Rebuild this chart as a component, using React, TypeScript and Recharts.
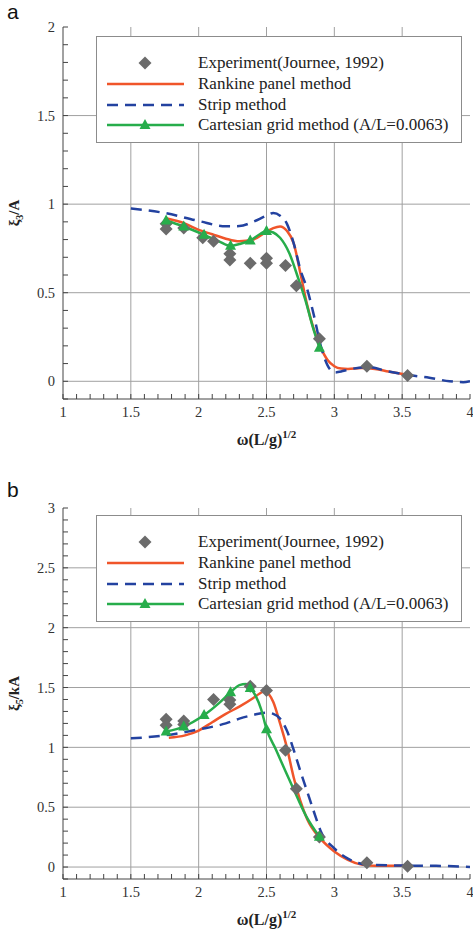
import React from 'react';
import { ComposedChart, Line, Scatter, XAxis, YAxis, CartesianGrid, Legend, Label } from 'recharts';

const SERIF = '"Liberation Serif", "Times New Roman", serif';
const RED = '#f0552a';
const BLUE = '#2342a0';
const GREEN = '#27ad4b';
const GRAY = '#6b6b6b';

const LEGEND_NAMES = [
  'Experiment(Journee, 1992)',
  'Rankine panel method',
  'Strip method',
  'Cartesian grid method (A/L=0.0063)',
];

const X_LABELS = [1, 1.5, 2, 2.5, 3, 3.5, 4];
const Y_LABELS_A = [0, 0.5, 1, 1.5, 2];
const Y_LABELS_B = [0, 0.5, 1, 1.5, 2, 2.5, 3];

// (a) heave, xi3/A
const expA_x = [1.76, 1.76, 1.89, 2.03, 2.11, 2.23, 2.23, 2.38, 2.5, 2.5, 2.64, 2.72, 2.89, 3.24, 3.54];
const expA_y = [0.89, 0.86, 0.865, 0.81, 0.79, 0.72, 0.685, 0.667, 0.695, 0.667, 0.654, 0.54, 0.24, 0.085, 0.032];

const rankineA_x = [1.76, 1.9, 2.0, 2.1, 2.2, 2.3, 2.4, 2.5, 2.55, 2.6, 2.65, 2.7, 2.75, 2.8, 2.85, 2.9, 2.95, 3.0, 3.05, 3.1, 3.2, 3.3, 3.4, 3.55];
const rankineA_y = [0.92, 0.89, 0.855, 0.83, 0.805, 0.79, 0.8, 0.845, 0.865, 0.874, 0.85, 0.78, 0.61, 0.43, 0.29, 0.19, 0.12, 0.085, 0.072, 0.07, 0.075, 0.07, 0.055, 0.035];

const stripA_x = [1.5, 1.75, 2.0, 2.2, 2.3, 2.4, 2.5, 2.55, 2.6, 2.65, 2.7, 2.75, 2.8, 2.85, 2.9, 2.95, 3.0, 3.05, 3.1, 3.25, 3.4, 3.55, 3.7, 3.85, 3.95, 4.0];
const stripA_y = [0.975, 0.95, 0.905, 0.875, 0.876, 0.9, 0.935, 0.95, 0.935, 0.89, 0.78, 0.63, 0.52, 0.37, 0.2, 0.09, 0.05, 0.055, 0.065, 0.08, 0.055, 0.035, 0.02, 0.0, -0.005, 0.0];

const cartA_x = [1.76, 1.89, 2.04, 2.15, 2.235, 2.3, 2.38, 2.45, 2.5, 2.55, 2.6, 2.67, 2.73, 2.79, 2.84, 2.89];
const cartA_y = [0.908, 0.874, 0.827, 0.79, 0.765, 0.775, 0.795, 0.83, 0.848, 0.84, 0.81, 0.72, 0.59, 0.45, 0.31, 0.19];
const cartMarkA_x = [1.76, 1.89, 2.04, 2.235, 2.38, 2.5, 2.89];
const cartMarkA_y = [0.908, 0.874, 0.827, 0.765, 0.795, 0.848, 0.19];

// (b) pitch, xi5/kA
const expB_x = [1.76, 1.76, 1.89, 1.89, 2.11, 2.23, 2.23, 2.38, 2.5, 2.64, 2.72, 2.89, 3.24, 3.54];
const expB_y = [1.235, 1.185, 1.22, 1.19, 1.4, 1.395, 1.36, 1.51, 1.475, 0.975, 0.655, 0.25, 0.035, 0.006];

const rankineB_x = [1.78, 1.9, 2.0, 2.1, 2.2, 2.3, 2.4, 2.45, 2.48, 2.52, 2.55, 2.6, 2.65, 2.7, 2.8, 2.9, 3.0, 3.1, 3.2, 3.3, 3.55];
const rankineB_y = [1.08, 1.1, 1.14, 1.21, 1.28, 1.34, 1.41, 1.45, 1.467, 1.44, 1.38, 1.2, 1.0, 0.75, 0.4, 0.235, 0.13, 0.06, 0.02, 0.01, 0.01];

const stripB_x = [1.5, 1.75, 2.0, 2.2, 2.3, 2.4, 2.5, 2.55, 2.6, 2.65, 2.7, 2.75, 2.8, 2.85, 2.9, 3.0, 3.1, 3.25, 3.5, 3.75, 4.0];
const stripB_y = [1.075, 1.1, 1.15, 1.2, 1.24, 1.27, 1.29, 1.28, 1.24, 1.14, 0.98, 0.8, 0.63, 0.46, 0.3, 0.155, 0.07, 0.02, 0.012, 0.01, 0.0];

const cartB_x = [1.76, 1.89, 2.04, 2.15, 2.235, 2.3, 2.35, 2.38, 2.42, 2.46, 2.5, 2.57, 2.64, 2.7, 2.79, 2.89];
const cartB_y = [1.132, 1.174, 1.27, 1.37, 1.46, 1.52, 1.53, 1.497, 1.43, 1.32, 1.152, 0.98, 0.8, 0.65, 0.43, 0.253];
const cartMarkB_x = [1.76, 1.89, 2.04, 2.235, 2.38, 2.5, 2.89];
const cartMarkB_y = [1.132, 1.174, 1.27, 1.46, 1.497, 1.152, 0.253];

const zip = (xs: number[], ys: number[]) => xs.map((x, i) => ({ x, y: ys[i] }));

const tenths = (from: number, to: number) => {
  const out: number[] = [];
  for (let k = Math.round(from * 10); k <= Math.round(to * 10); k++) out.push(k / 10);
  return out;
};

const Diamond = (props: any) => {
  const { cx, cy } = props;
  const r = 6.5;
  return <path d={`M${cx},${cy - r}L${cx + r},${cy}L${cx},${cy + r}L${cx - r},${cy}Z`} fill={GRAY} />;
};

const Triangle = (props: any) => {
  const { cx, cy } = props;
  return <path d={`M${cx},${cy - 6}L${cx + 5.5},${cy + 4}L${cx - 5.5},${cy + 4}Z`} fill={GREEN} />;
};

const LegendBox = () => (
  <div
    style={{
      boxSizing: 'border-box',
      width: 366,
      height: 107,
      border: '1px solid #8c8c8c',
      background: '#fff',
      paddingTop: 16,
      fontFamily: SERIF,
      fontSize: 17,
      color: '#222',
    }}
  >
    {LEGEND_NAMES.map((name, i) => (
      <div key={name} style={{ display: 'flex', alignItems: 'center', height: 20.7 }}>
        <svg width={101} height={20} style={{ flex: 'none' }}>
          {i === 0 && <path d="M48,3.5L54.5,10L48,16.5L41.5,10Z" fill={GRAY} />}
          {i === 1 && <line x1={10} x2={87} y1={10} y2={10} stroke={RED} strokeWidth={2.5} />}
          {i === 2 && <line x1={10} x2={87} y1={10} y2={10} stroke={BLUE} strokeWidth={2.5} strokeDasharray="11 7" />}
          {i === 3 && (
            <g>
              <line x1={10} x2={87} y1={10} y2={10} stroke={GREEN} strokeWidth={2.5} />
              <path d="M48,4L53.5,14L42.5,14Z" fill={GREEN} />
            </g>
          )}
        </svg>
        <span style={{ whiteSpace: 'nowrap' }}>{name}</span>
      </div>
    ))}
  </div>
);

const XTitle = (props: any) => {
  const vb = props.viewBox;
  const cx = vb.x + vb.width / 2;
  return (
    <text x={cx} y={vb.y + 46} textAnchor="middle" fontFamily={SERIF} fontSize={16} fontWeight="bold" fill="#222">
      ω(L/g)
      <tspan dy={-7} fontSize={11}>1/2</tspan>
    </text>
  );
};

const makeYTitle = (sub: string, rest: string) => (props: any) => {
  const vb = props.viewBox;
  const cy = vb.y + vb.height / 2;
  const cx = 19;
  return (
    <text
      x={cx}
      y={cy}
      textAnchor="middle"
      transform={`rotate(-90, ${cx}, ${cy})`}
      fontFamily={SERIF}
      fontSize={15}
      fontWeight="bold"
      fill="#222"
    >
      ξ
      <tspan dy={4} fontSize={10}>{sub}</tspan>
      <tspan dy={-4}>{rest}</tspan>
    </text>
  );
};

type PanelProps = {
  height: number;
  top: number;
  bottom: number;
  yMax: number;
  yLabels: number[];
  yTitle: (p: any) => React.ReactElement;
  legendTop: number;
  exp: { x: number; y: number }[];
  rankine: { x: number; y: number }[];
  strip: { x: number; y: number }[];
  cart: { x: number; y: number }[];
  cartMarks: { x: number; y: number }[];
};

const axisStroke = '#444';
const tickStyle = { fontFamily: SERIF, fontSize: 14.5, fill: '#333' };

const Panel = (p: PanelProps) => {
  const xTicks = tenths(1, 4);
  const yTicks = tenths(-0.1, p.yMax);
  const fmtX = (v: number) => (X_LABELS.includes(v) ? String(v) : '');
  const fmtY = (v: number) => (p.yLabels.includes(v) ? String(v) : '');
  return (
    <ComposedChart width={473} height={p.height} margin={{ top: p.top, right: 3, left: 23, bottom: p.bottom }}>
      <CartesianGrid
        stroke="#a0a0a0"
        strokeWidth={1}
        horizontalValues={p.yLabels.filter((v) => v < p.yMax)}
        verticalValues={[1.5, 2, 2.5, 3, 3.5]}
      />
      <XAxis
        type="number"
        dataKey="x"
        domain={[1, 4]}
        allowDataOverflow
        ticks={xTicks}
        interval={0}
        tickFormatter={fmtX}
        tickSize={-5}
        tickMargin={13}
        height={30}
        stroke={axisStroke}
        tick={tickStyle}
      >
        <Label content={XTitle} />
      </XAxis>
      <XAxis
        xAxisId="top"
        orientation="top"
        type="number"
        dataKey="x"
        domain={[1, 4]}
        allowDataOverflow
        ticks={xTicks}
        interval={0}
        tickFormatter={() => ''}
        tickSize={-5}
        height={0}
        stroke={axisStroke}
      />
      <YAxis
        type="number"
        dataKey="y"
        domain={[-0.1, p.yMax]}
        allowDataOverflow
        ticks={yTicks}
        interval={0}
        tickFormatter={fmtY}
        tickSize={-5}
        tickMargin={13}
        width={40}
        stroke={axisStroke}
        tick={tickStyle}
      >
        <Label content={p.yTitle} />
      </YAxis>
      <YAxis
        yAxisId="right"
        orientation="right"
        type="number"
        domain={[-0.1, p.yMax]}
        allowDataOverflow
        ticks={yTicks}
        interval={0}
        tickFormatter={() => ''}
        tickSize={-5}
        width={0}
        stroke={axisStroke}
      />
      <Legend
        layout="vertical"
        align="center"
        verticalAlign="middle"
        wrapperStyle={{ left: 96, top: p.legendTop, width: 366, height: 107 }}
        content={() => <LegendBox />}
      />
      <Scatter data={p.exp} dataKey="y" shape={Diamond} isAnimationActive={false} />
      <Line data={p.rankine} dataKey="y" type="monotone" stroke={RED} strokeWidth={2.5} dot={false} activeDot={false} isAnimationActive={false} />
      <Line data={p.strip} dataKey="y" type="monotone" stroke={BLUE} strokeWidth={2.5} strokeDasharray="11 7" dot={false} activeDot={false} isAnimationActive={false} />
      <Line data={p.cart} dataKey="y" type="monotone" stroke={GREEN} strokeWidth={2.5} dot={false} activeDot={false} isAnimationActive={false} />
      <Scatter data={p.cartMarks} dataKey="y" shape={Triangle} isAnimationActive={false} />
    </ComposedChart>
  );
};

const letterStyle: React.CSSProperties = {
  position: 'absolute',
  left: 7,
  fontFamily: '"Liberation Sans", Arial, sans-serif',
  fontSize: 21,
  lineHeight: 'normal',
  color: '#111',
};

export default function App() {
  return (
    <div style={{ position: 'absolute', left: 0, top: 0, width: 473, height: 931, background: '#fff' }}>
      <div style={{ ...letterStyle, top: 0 }}>a</div>
      <div style={{ position: 'absolute', left: 0, top: 0 }}>
        <Panel
          height={465}
          top={27}
          bottom={36}
          yMax={2}
          yLabels={Y_LABELS_A}
          yTitle={makeYTitle('3', '/A')}
          legendTop={36}
          exp={zip(expA_x, expA_y)}
          rankine={zip(rankineA_x, rankineA_y)}
          strip={zip(stripA_x, stripA_y)}
          cart={zip(cartA_x, cartA_y)}
          cartMarks={zip(cartMarkA_x, cartMarkA_y)}
        />
      </div>
      <div style={{ ...letterStyle, top: 478 }}>b</div>
      <div style={{ position: 'absolute', left: 0, top: 465 }}>
        <Panel
          height={466}
          top={43}
          bottom={22}
          yMax={3}
          yLabels={Y_LABELS_B}
          yTitle={makeYTitle('5', '/kA')}
          legendTop={50}
          exp={zip(expB_x, expB_y)}
          rankine={zip(rankineB_x, rankineB_y)}
          strip={zip(stripB_x, stripB_y)}
          cart={zip(cartB_x, cartB_y)}
          cartMarks={zip(cartMarkB_x, cartMarkB_y)}
        />
      </div>
    </div>
  );
}
